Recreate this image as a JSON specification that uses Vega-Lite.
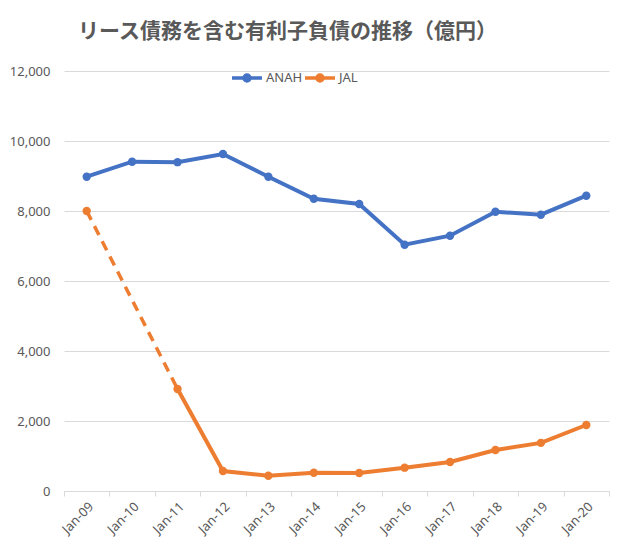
{
  "$schema": "https://vega.github.io/schema/vega-lite/v6.json",
  "width": 545,
  "height": 420,
  "autosize": "none",
  "padding": {"left": 64, "top": 71, "right": 17, "bottom": 61},
  "background": "white",
  "title": {
    "text": "リース債務を含む有利子負債の推移（億円）",
    "font": "Noto Sans CJK JP",
    "fontSize": 21,
    "fontWeight": "bold",
    "color": "#595959",
    "anchor": "start",
    "frame": "group",
    "dx": 14,
    "offset": 19
  },
  "config": {
    "view": {"stroke": null},
    "font": "Noto Sans",
    "axis": {"labelColor": "#595959", "labelFontSize": 13, "title": null}
  },
  "data": {
    "values": [
      {"date": "Jan-09", "company": "ANAH", "value": 8980},
      {"date": "Jan-10", "company": "ANAH", "value": 9408},
      {"date": "Jan-11", "company": "ANAH", "value": 9395},
      {"date": "Jan-12", "company": "ANAH", "value": 9628},
      {"date": "Jan-13", "company": "ANAH", "value": 8980},
      {"date": "Jan-14", "company": "ANAH", "value": 8351},
      {"date": "Jan-15", "company": "ANAH", "value": 8200},
      {"date": "Jan-16", "company": "ANAH", "value": 7037},
      {"date": "Jan-17", "company": "ANAH", "value": 7294},
      {"date": "Jan-18", "company": "ANAH", "value": 7980},
      {"date": "Jan-19", "company": "ANAH", "value": 7894},
      {"date": "Jan-20", "company": "ANAH", "value": 8437},
      {"date": "Jan-09", "company": "JAL", "value": 8000},
      {"date": "Jan-11", "company": "JAL", "value": 2914},
      {"date": "Jan-12", "company": "JAL", "value": 571},
      {"date": "Jan-13", "company": "JAL", "value": 437},
      {"date": "Jan-14", "company": "JAL", "value": 523},
      {"date": "Jan-15", "company": "JAL", "value": 514},
      {"date": "Jan-16", "company": "JAL", "value": 666},
      {"date": "Jan-17", "company": "JAL", "value": 829},
      {"date": "Jan-18", "company": "JAL", "value": 1171},
      {"date": "Jan-19", "company": "JAL", "value": 1375},
      {"date": "Jan-20", "company": "JAL", "value": 1886}
    ]
  },
  "encoding": {
    "x": {
      "field": "date",
      "type": "ordinal",
      "bandPosition": 0.5,
      "scale": {
        "type": "band",
        "domain": ["Jan-09", "Jan-10", "Jan-11", "Jan-12", "Jan-13", "Jan-14", "Jan-15", "Jan-16", "Jan-17", "Jan-18", "Jan-19", "Jan-20"],
        "paddingInner": 0,
        "paddingOuter": 0
      },
      "axis": {
        "labelAngle": -45,
        "tickBand": "extent",
        "grid": false,
        "domainColor": "#D9D9D9",
        "tickColor": "#D9D9D9",
        "tickSize": 5,
        "labelPadding": 4
      }
    },
    "y": {
      "field": "value",
      "type": "quantitative",
      "scale": {"domain": [0, 12000]},
      "axis": {
        "values": [0, 2000, 4000, 6000, 8000, 10000, 12000],
        "format": ",d",
        "domain": false,
        "ticks": false,
        "gridColor": "#D9D9D9",
        "labelPadding": 14
      }
    },
    "color": {
      "field": "company",
      "type": "nominal",
      "scale": {"domain": ["ANAH", "JAL"], "range": ["#4472C4", "#ED7D31"]},
      "legend": {
        "title": null,
        "orient": "none",
        "direction": "horizontal",
        "legendX": 166,
        "legendY": -10,
        "labelFontSize": 13,
        "labelColor": "#595959",
        "symbolType": "M -1 0 L 1 0 M 0.2 0 A 0.2 0.2 0 1 1 -0.2 0 A 0.2 0.2 0 1 1 0.2 0",
        "symbolSize": 900,
        "symbolStrokeWidth": 3.5,
        "labelOffset": 2,
        "columnPadding": -8,
        "encode": {
          "symbols": {
            "update": {
              "fill": {"scale": "color", "field": "value"},
              "stroke": {"scale": "color", "field": "value"}
            }
          }
        }
      }
    }
  },
  "layer": [
    {
      "transform": [{"filter": "datum.company == 'JAL' && (datum.date == 'Jan-09' || datum.date == 'Jan-11')"}],
      "mark": {"type": "line", "strokeWidth": 3.5, "strokeDash": [10, 7]}
    },
    {
      "transform": [{"filter": "!(datum.company == 'JAL' && datum.date == 'Jan-09')"}],
      "mark": {"type": "line", "strokeWidth": 4}
    },
    {
      "mark": {"type": "point", "filled": true, "size": 70, "opacity": 1}
    }
  ]
}
